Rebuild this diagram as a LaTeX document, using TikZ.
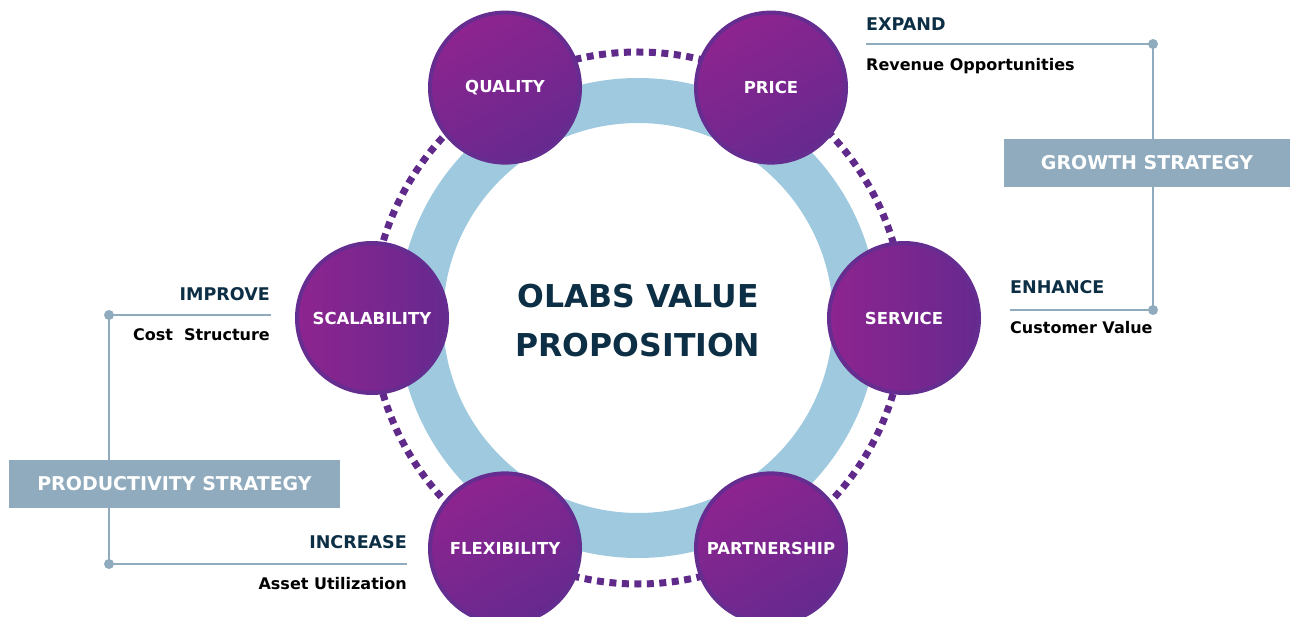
\documentclass[tikz,border=0pt]{standalone}
\usepackage{fontspec}
\setmainfont{DejaVu Sans}
\definecolor{ringblue}{HTML}{9EC9DE}
\definecolor{linegray}{HTML}{8FABBD}
\definecolor{navy}{HTML}{0C2F45}
\definecolor{rimpurple}{HTML}{662D91}
\definecolor{dotpurple}{HTML}{5F2A8A}
\definecolor{lightmag}{HTML}{8E248F}
\definecolor{darkpur}{HTML}{66298F}

\begin{document}
\begin{tikzpicture}[x=1pt,y=-1pt]
\tikzstyle{every node}+=[inner sep=0pt]
\tikzstyle{ball}=[circle,minimum size=150pt,draw=rimpurple,line width=4pt,text=white,font=\bfseries\fontsize{16.5}{20}\selectfont]
\tikzstyle{balltb}=[ball,top color=lightmag,bottom color=darkpur,shading angle=30]
\tikzstyle{ballside}=[ball,left color=lightmag,right color=darkpur]
\tikzstyle{head}=[text=navy,font=\bfseries\fontsize{17.5}{20}\selectfont]
\tikzstyle{sub}=[text=black,font=\bfseries\fontsize{16}{19}\selectfont]
\tikzstyle{strat}=[fill=linegray,text=white,minimum height=48pt,font=\bfseries\fontsize{19}{22}\selectfont]
\tikzstyle{knob}=[circle,fill=linegray,minimum size=10pt]
\tikzstyle{wire}=[linegray,line width=2.5pt]
\useasboundingbox (0,0) rectangle (1290,617);
\draw [ringblue,line width=45pt] (638,318) circle (217.5pt);
\draw [dotpurple,line width=7pt,dash pattern=on 7pt off 5.5pt] (638,318) circle (266pt);
\node[balltb] (quality) at (505,87.6) {QUALITY};
\node[balltb] (price) at (771,87.6) {PRICE};
\node[ballside] (service) at (904,318) {SERVICE};
\node[balltb] (partnership) at (771,548.4) {PARTNERSHIP};
\node[balltb] (flexibility) at (505,548.4) {FLEXIBILITY};
\node[ballside] (scalability) at (372,318) {SCALABILITY};
\node[text=navy,align=center,font=\bfseries\fontsize{31.5}{49}\selectfont] (title) at (638,321) {OLABS VALUE\\PROPOSITION};
\node[knob] (gtop) at (1153,44) {};
\node[knob] (gbot) at (1153,310) {};
\coordinate (expandend) at (866,44);
\coordinate (enhanceend) at (1010,310);
\draw [wire] (expandend) -- (gtop.center) -- (gbot.center) -- (enhanceend);
\node[strat,minimum width=286pt] (growth) at (1147,163) {GROWTH STRATEGY};
\node[head,anchor=base west] (expand) at (866,31) {EXPAND};
\node[sub,anchor=base west] (revenue) at (866,71) {Revenue Opportunities};
\node[head,anchor=base west] (enhance) at (1010,294) {ENHANCE};
\node[sub,anchor=base west] (customer) at (1010,334) {Customer Value};
\node[knob] (ptop) at (109,315) {};
\node[knob] (pbot) at (109,564) {};
\coordinate (improveend) at (271,315);
\coordinate (increaseend) at (407,564);
\draw [wire] (improveend) -- (ptop.center) -- (pbot.center) -- (increaseend);
\node[strat,minimum width=331pt] (productivity) at (174.5,484) {PRODUCTIVITY STRATEGY};
\node[head,anchor=base east] (improve) at (270,301) {IMPROVE};
\node[sub,anchor=base east] (cost) at (270,341) {Cost\ \ Structure};
\node[head,anchor=base east] (increase) at (407,548) {INCREASE};
\node[sub,anchor=base east] (asset) at (407,589) {Asset Utilization};
\end{tikzpicture}
\end{document}
